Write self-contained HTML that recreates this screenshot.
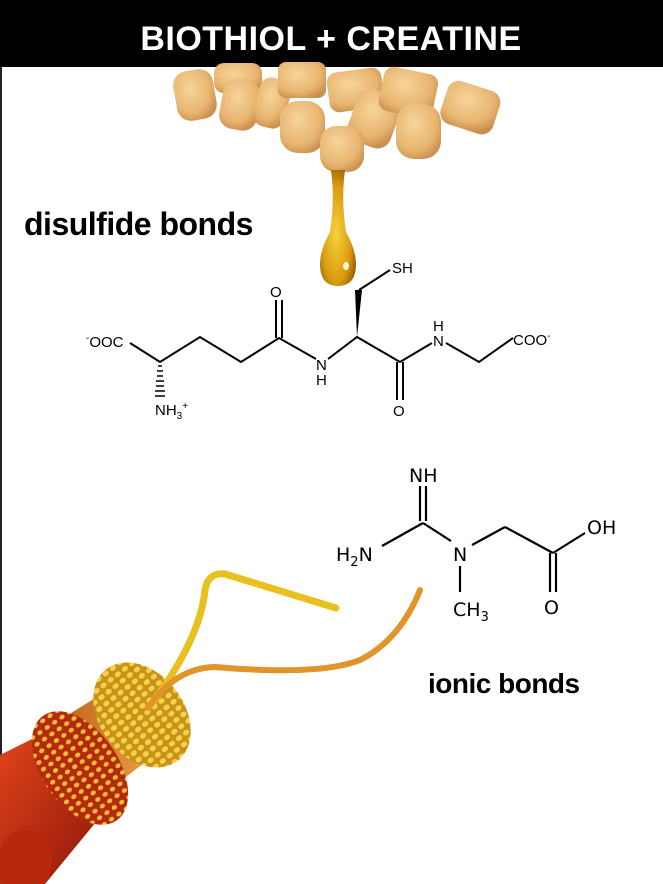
<!DOCTYPE html>
<html><head><meta charset="utf-8"><style>
html,body{margin:0;padding:0;background:#fff;}
body{width:663px;height:884px;overflow:hidden;position:relative;}
svg{position:absolute;left:0;top:0;}
</style></head><body>
<svg width="663" height="884" viewBox="0 0 663 884" xmlns="http://www.w3.org/2000/svg">
<defs>
<radialGradient id="seed" cx="40%" cy="35%" r="70%"><stop offset="0" stop-color="#f6d49a"/><stop offset="0.7" stop-color="#e8b570"/><stop offset="1" stop-color="#c99050"/></radialGradient>
<radialGradient id="drop" cx="45%" cy="55%" r="60%"><stop offset="0" stop-color="#f7d23a"/><stop offset="0.7" stop-color="#d99a10"/><stop offset="1" stop-color="#9a6205"/></radialGradient>
<linearGradient id="red" x1="0" y1="0" x2="1" y2="1"><stop offset="0" stop-color="#e0441a"/><stop offset="1" stop-color="#8a1508"/></linearGradient>
<linearGradient id="fib" x1="0" y1="0" x2="1" y2="0"><stop offset="0" stop-color="#c0621a"/><stop offset="1" stop-color="#f0b050"/></linearGradient>
<pattern id="cells" width="9" height="8" patternUnits="userSpaceOnUse"><rect width="9" height="8" fill="#c8911a"/><ellipse cx="4" cy="4" rx="3.3" ry="2.6" fill="#f5d24a"/></pattern>
<pattern id="rcells" width="9" height="8" patternUnits="userSpaceOnUse"><rect width="9" height="8" fill="#b42a0c"/><ellipse cx="4.5" cy="4" rx="2.8" ry="2.2" fill="#f5c040"/></pattern>
</defs>
<rect x="0" y="0" width="663" height="67" fill="#000"/>
<text x="331" y="50" text-anchor="middle" font-family="Liberation Sans, sans-serif" font-weight="bold" font-size="34" fill="#fff" letter-spacing="0.5">BIOTHIOL + CREATINE</text>
<rect x="0" y="67" width="2" height="817" fill="#222"/>
<!-- seeds -->
<g fill="url(#seed)">
<rect x="175" y="70" width="40" height="50" rx="14" transform="rotate(-10 195 95)"/>
<rect x="214" y="63" width="48" height="30" rx="10"/>
<rect x="221" y="80" width="38" height="50" rx="14" transform="rotate(10 240 105)"/>
<rect x="256" y="78" width="32" height="50" rx="12" transform="rotate(15 272 103)"/>
<rect x="278" y="62" width="48" height="36" rx="8"/>
<rect x="280" y="101" width="45" height="52" rx="18"/>
<rect x="328" y="70" width="55" height="40" rx="10" transform="rotate(-8 355 90)"/>
<rect x="352" y="92" width="45" height="55" rx="14" transform="rotate(20 376 118)"/>
<rect x="381" y="70" width="55" height="45" rx="10" transform="rotate(12 408 92)"/>
<rect x="396" y="104" width="45" height="55" rx="18"/>
<rect x="443" y="85" width="55" height="45" rx="12" transform="rotate(18 470 107)"/>
<rect x="320" y="126" width="44" height="46" rx="16"/>
</g>
<!-- drop -->
<path d="M331,170 L345,170 Q341,200 346,232 Q356,250 356,264 Q356,286 338,286 Q320,286 320,264 Q320,250 330,232 Q335,200 331,170Z" fill="url(#drop)"/>
<ellipse cx="346" cy="266" rx="3" ry="4" fill="#fff8c0"/>
<text x="24" y="235" font-family="Liberation Sans, sans-serif" font-weight="bold" font-size="32" fill="#000" letter-spacing="-0.5">disulfide bonds</text>
<text x="428" y="693" font-family="Liberation Sans, sans-serif" font-weight="bold" font-size="28" fill="#000" letter-spacing="-0.5">ionic bonds</text>
<!-- glutathione -->
<g stroke="#000" stroke-width="2" fill="none">
<polyline points="130,343 160,362 200,337 241,362 279,338 316,359"/>
<line x1="276" y1="338" x2="276" y2="300"/><line x1="282" y1="338" x2="282" y2="300"/>
<polyline points="328,359 357,337 400,362 432,343"/>
<line x1="359" y1="290" x2="390" y2="270"/>
<line x1="397" y1="362" x2="397" y2="400"/><line x1="403" y1="362" x2="403" y2="400"/>
<polyline points="446,343 479,362 513,338"/>
</g>
<polygon points="357,337 355,290 362,290" fill="#000"/>
<g stroke="#000" stroke-width="1.5">
<line x1="158" y1="366" x2="162" y2="366"/><line x1="157" y1="371" x2="163" y2="371"/><line x1="157" y1="376" x2="163" y2="376"/><line x1="156" y1="381" x2="164" y2="381"/><line x1="156" y1="386" x2="164" y2="386"/><line x1="155" y1="391" x2="165" y2="391"/><line x1="155" y1="396" x2="165" y2="396"/>
</g>
<g font-family="Liberation Sans, sans-serif" font-size="15" fill="#000">
<text x="86" y="347"><tspan font-size="10" dy="-6">-</tspan><tspan dy="6">OOC</tspan></text>
<text x="270" y="297">O</text>
<text x="316" y="370">N</text><text x="316" y="385">H</text>
<text x="392" y="273">SH</text>
<text x="393" y="416">O</text>
<text x="433" y="331">H</text><text x="433" y="346">N</text>
<text x="513" y="345">COO<tspan font-size="10" dy="-6">-</tspan></text>
<text x="155" y="415">NH<tspan font-size="10" dy="4">3</tspan><tspan font-size="10" dy="-10">+</tspan></text>
</g>
<!-- creatine -->
<g stroke="#000" stroke-width="2.2" fill="none">
<line x1="420" y1="486" x2="420" y2="521"/><line x1="426" y1="486" x2="426" y2="521"/>
<line x1="423" y1="523" x2="382" y2="546"/>
<line x1="423" y1="523" x2="451" y2="541"/>
<line x1="460" y1="566" x2="460" y2="592"/>
<line x1="472" y1="545" x2="505" y2="527"/>
<line x1="505" y1="527" x2="553" y2="553"/>
<line x1="553" y1="553" x2="585" y2="533"/>
<line x1="550" y1="553" x2="550" y2="592"/><line x1="556" y1="553" x2="556" y2="592"/>
</g>
<g font-family="DejaVu Sans, sans-serif" font-size="19" fill="#000">
<text x="409" y="482">NH</text>
<text x="336" y="561">H<tspan font-size="13" dy="5">2</tspan><tspan dy="-5">N</tspan></text>
<text x="453" y="561">N</text>
<text x="453" y="616">CH<tspan font-size="13" dy="5">3</tspan></text>
<text x="587" y="534">OH</text>
<text x="544" y="614">O</text>
</g>
<!-- muscle -->
<path d="M0,755 L40,735 L110,805 L45,884 L0,884Z" fill="url(#red)"/>
<ellipse cx="25" cy="862" rx="27" ry="32" fill="#b8280c"/>
<path d="M60,720 L140,670 L175,740 L95,800Z" fill="url(#fib)"/>
<ellipse cx="80" cy="768" rx="38" ry="64" transform="rotate(-35 80 768)" fill="url(#rcells)"/>
<path d="M110,700 L135,663 L180,760 L150,760Z" fill="url(#fib)"/>
<ellipse cx="142" cy="715" rx="42" ry="58" transform="rotate(-38 142 715)" fill="url(#cells)"/>
<path d="M150,706 Q200,640 205,590 Q208,572 225,574 L336,608" stroke="#e8c020" stroke-width="7" fill="none" stroke-linecap="round"/>
<path d="M148,708 Q175,668 215,667 Q320,676 360,660 Q400,640 420,590" stroke="#e0942a" stroke-width="6" fill="none" stroke-linecap="round"/>
</svg>
</body></html>
